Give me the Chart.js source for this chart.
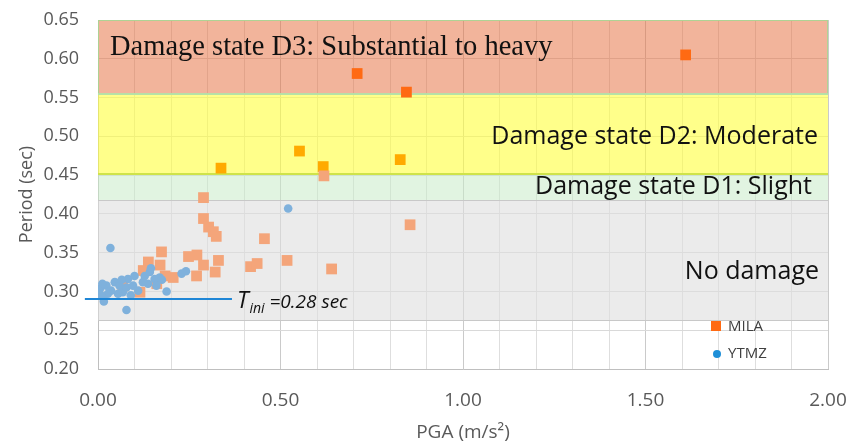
<!DOCTYPE html>
<html>
<head>
<meta charset="utf-8">
<script src="https://cdn.jsdelivr.net/npm/chart.js@4.4.1/dist/chart.umd.min.js"></script>
<style>
  html, body { margin: 0; padding: 0; background: #fff; }
</style>
</head>
<body>
<canvas id="mycanvas" width="848" height="445"></canvas>
<script>
// MILA (squares)
var milaPGA = [1.61, 0.71, 0.845, 0.337, 0.552, 0.617, 0.828, 0.619, 0.289, 0.855,
  0.289, 0.303, 0.316, 0.324, 0.456, 0.330, 0.518, 0.640, 0.418, 0.436,
  0.321, 0.289, 0.248, 0.271, 0.270, 0.206, 0.184, 0.174, 0.170, 0.138,
  0.124, 0.161, 0.115, 0.068];
var milaT = [0.605, 0.581, 0.557, 0.459, 0.481, 0.461, 0.470, 0.449, 0.421, 0.386,
  0.394, 0.383, 0.377, 0.371, 0.368, 0.340, 0.340, 0.329, 0.332, 0.336,
  0.325, 0.334, 0.345, 0.347, 0.320, 0.318, 0.320, 0.351, 0.334, 0.338,
  0.327, 0.310, 0.299, 0.307];

// YTMZ (circles)
var ytmzPGA = [0.034, 0.078, 0.016, 0.188, 0.521, 0.005, 0.023, 0.036, 0.046, 0.059,
  0.068, 0.078, 0.082, 0.096, 0.110, 0.027, 0.055, 0.128, 0.142, 0.155,
  0.169, 0.137, 0.160, 0.123, 0.014, 0.229, 0.241, 0.175, 0.090, 0.065,
  0.100, 0.145, 0.012, 0.000, 0.008];
var ytmzT = [0.356, 0.276, 0.287, 0.300, 0.407, 0.303, 0.3075, 0.301, 0.312, 0.3075,
  0.299, 0.305, 0.316, 0.3075, 0.301, 0.297, 0.297, 0.320, 0.325, 0.316,
  0.318, 0.310, 0.3075, 0.312, 0.292, 0.323, 0.326, 0.315, 0.295, 0.315,
  0.320, 0.330, 0.310, 0.303, 0.295];

// damage state bands
var bandNames = ['No damage', 'Damage state D1: Slight', 'Damage state D2: Moderate', 'Damage state D3: Substantial to heavy'];
var bandLow  = [0.263, 0.418, 0.452, 0.555];
var bandHigh = [0.418, 0.452, 0.555, 0.65];

// initial period marker
var tIniValue = 0.29;
var tIniFrom = -0.036;
var tIniTo = 0.367;

function pts(xs, ys) {
  var out = [];
  for (var i in xs) out.push({x: xs[i], y: ys[i]});
  return out;
}

var bandFill = ['rgba(222,222,222,0.6)', 'rgba(200,235,200,0.55)', 'rgba(255,255,60,0.6)', 'rgba(230,105,55,0.5)'];
var bandText = [
  {font: '25px "Open Sans"', align: 'right', dx: -9, y: 0.325},
  {font: '25px "Open Sans"', align: 'right', dx: -16, y: 0.435},
  {font: '25px "Open Sans"', align: 'right', dx: -10, y: 0.499},
  {font: '28.5px "Liberation Serif"', align: 'left', dx: 12, y: 0.615}
];

var bandsPlugin = {
  id: 'bands',
  beforeDatasetsDraw: function(chart) {
    var ctx = chart.ctx, xs = chart.scales.x, ys = chart.scales.y;
    ctx.save();
    for (var i = 0; i < bandLow.length; i++) {
      var top = ys.getPixelForValue(bandHigh[i]);
      var bot = ys.getPixelForValue(bandLow[i]);
      ctx.fillStyle = bandFill[i];
      ctx.fillRect(xs.left, top, xs.right - xs.left, bot - top);
    }
    // outlines
    ctx.lineWidth = 1;
    ctx.strokeStyle = 'rgba(170,215,150,0.9)';
    ctx.strokeRect(xs.left + 0.5, ys.getPixelForValue(0.65) + 0.5, xs.right - xs.left - 1, ys.getPixelForValue(bandLow[3]) - ys.getPixelForValue(0.65));
    ctx.lineWidth = 2;
    ctx.strokeStyle = '#CFE34A';
    var y2 = Math.round(ys.getPixelForValue(bandLow[2]));
    ctx.beginPath(); ctx.moveTo(xs.left, y2); ctx.lineTo(xs.right, y2); ctx.stroke();
    var y3 = Math.round(ys.getPixelForValue(bandLow[3]));
    ctx.strokeStyle = 'rgba(180,225,170,0.9)';
    ctx.beginPath(); ctx.moveTo(xs.left, y3); ctx.lineTo(xs.right, y3); ctx.stroke();
    ctx.lineWidth = 1;
    ctx.strokeStyle = '#C8C8C8';
    var y1 = Math.round(ys.getPixelForValue(bandLow[1])) + 0.5;
    ctx.beginPath(); ctx.moveTo(xs.left, y1); ctx.lineTo(xs.right, y1); ctx.stroke();
    var y0 = Math.round(ys.getPixelForValue(bandLow[0])) + 0.5;
    ctx.beginPath(); ctx.moveTo(xs.left, y0); ctx.lineTo(xs.right, y0); ctx.stroke();

    // labels
    ctx.fillStyle = '#111';
    ctx.textBaseline = 'middle';
    for (var j = 0; j < bandNames.length; j++) {
      ctx.font = bandText[j].font;
      ctx.textAlign = bandText[j].align;
      var x = bandText[j].align == 'right' ? xs.right + bandText[j].dx : xs.left + bandText[j].dx;
      ctx.fillText(bandNames[j], x, ys.getPixelForValue(bandText[j].y));
    }
    ctx.restore();
  },
  afterDatasetsDraw: function(chart) {
    var ctx = chart.ctx, xs = chart.scales.x, ys = chart.scales.y;
    ctx.save();
    // T_ini line
    var yy = Math.round(ys.getPixelForValue(tIniValue));
    ctx.strokeStyle = '#1F86D6';
    ctx.lineWidth = 2;
    ctx.beginPath();
    ctx.moveTo(xs.getPixelForValue(tIniFrom), yy);
    ctx.lineTo(xs.getPixelForValue(tIniTo), yy);
    ctx.stroke();
    var tx = xs.getPixelForValue(tIniTo) + 5;
    ctx.fillStyle = '#111';
    ctx.textBaseline = 'alphabetic';
    ctx.textAlign = 'left';
    ctx.font = 'italic 23px "Open Sans"';
    ctx.fillText('T', tx, yy + 9);
    var w = ctx.measureText('T').width;
    ctx.font = 'italic 14px "Open Sans"';
    ctx.fillText('ini', tx + w + 1, yy + 14);
    var w2 = ctx.measureText('ini').width;
    ctx.font = 'italic 19px "Open Sans"';
    ctx.fillText(' =0.28 sec', tx + w + w2 + 1, yy + 9);

    // legend
    var lx = 716;
    ctx.fillStyle = '#FF6A13';
    ctx.fillRect(lx - 5, 321, 10, 10);
    ctx.fillStyle = '#1E8FD8';
    ctx.beginPath(); ctx.arc(lx + 1, 354, 4, 0, Math.PI * 2); ctx.fill();
    ctx.fillStyle = '#404040';
    ctx.font = '15px "Open Sans"';
    ctx.textBaseline = 'middle';
    ctx.fillText('MILA', lx + 12, 327);
    ctx.fillText('YTMZ', lx + 12, 354);
    ctx.restore();
  }
};

function milaColor(c) {
  var v = c.raw ? c.raw.y : 0;
  if (v > 0.555) return '#FF6A13';
  if (v > 0.452) return '#FFAA00';
  return '#F4A57A';
}

var ctx = document.getElementById('mycanvas');
var chart = new Chart(ctx, {
  type: 'scatter',
  data: {
    datasets: [
      {
        label: 'YTMZ',
        data: pts(ytmzPGA, ytmzT),
        pointStyle: 'circle',
        pointRadius: 4.3,
        backgroundColor: '#7FB1DC',
        borderWidth: 0
      },
      {
        label: 'MILA',
        data: pts(milaPGA, milaT),
        pointStyle: 'rect',
        pointRadius: 7.6,
        backgroundColor: milaColor,
        borderWidth: 0
      }
    ]
  },
  options: {
    responsive: false,
    animation: false,
    devicePixelRatio: 1,
    layout: { padding: { top: 20, right: 20, left: 0, bottom: 0 } },
    plugins: { legend: { display: false }, tooltip: { enabled: false } },
    scales: {
      x: {
        type: 'linear', min: 0, max: 2,
        afterFit: function(s) { s.height = 76; s.paddingLeft = 0; s.paddingRight = 0; },
        title: { display: true, text: 'PGA (m/s²)', color: '#595959', font: { family: 'Open Sans', size: 19 }, padding: { top: 0, bottom: 1 } },
        ticks: {
          stepSize: 0.1, autoSkip: false, maxRotation: 0, color: '#595959', padding: 20,
          font: { family: 'Open Sans', size: 19 },
          callback: function(v) {
            return Math.abs(v * 2 - Math.round(v * 2)) < 1e-6 ? v.toFixed(2) : '';
          }
        },
        grid: {
          drawTicks: false,
          color: function(c) {
            var v = c.tick ? c.tick.value : 0;
            return Math.abs(v * 2 - Math.round(v * 2)) < 1e-6 ? '#CACACA' : '#DEDEDE';
          }
        },
        border: { color: '#BFBFBF' }
      },
      y: {
        type: 'linear', min: 0.2, max: 0.65,
        afterFit: function(s) { s.width = 98; s.paddingTop = 0; s.paddingBottom = 0; },
        title: { display: true, text: 'Period (sec)', color: '#595959', font: { family: 'Open Sans', size: 18 }, padding: { top: 16, bottom: 0 } },
        ticks: {
          stepSize: 0.05, color: '#595959', padding: 19,
          font: { family: 'Open Sans', size: 18 },
          callback: function(v) { return v.toFixed(2); }
        },
        grid: { drawTicks: false, color: '#D9D9D9' },
        border: { color: '#BFBFBF' }
      }
    }
  },
  plugins: [bandsPlugin]
});
</script>
</body>
</html>
